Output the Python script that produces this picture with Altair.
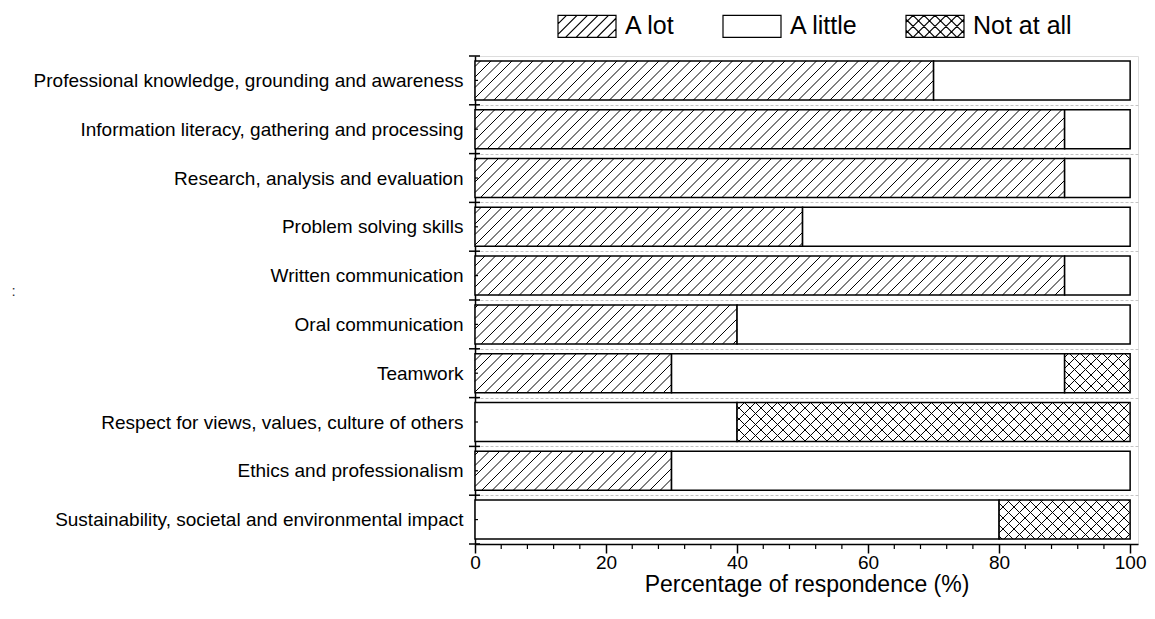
import json
import math
import pandas as pd
import altair as alt

# ---------------- data ----------------
CATEGORIES = [
    "Professional knowledge, grounding and awareness",
    "Information literacy, gathering and processing",
    "Research, analysis and evaluation",
    "Problem solving skills",
    "Written communication",
    "Oral communication",
    "Teamwork",
    "Respect for views, values, culture of others",
    "Ethics and professionalism",
    "Sustainability, societal and environmental impact",
]
RESPONSES = ["A lot", "A little", "Not at all"]
A_LOT = [70, 90, 90, 50, 90, 40, 30, 0, 30, 0]
A_LITTLE = [30, 10, 10, 50, 10, 60, 60, 40, 70, 80]
NOT_AT_ALL = [0, 0, 0, 0, 0, 0, 10, 60, 0, 20]
X_TICKS = [0, 20, 40, 60, 80, 100]
X_MINOR_TICKS = [v for v in range(4, 100, 4) if v % 20 != 0]
X_TITLE = "Percentage of respondence (%)"
STRAY_TEXT = ":"

# ---------------- layout / style ----------------
FONT = "Liberation Sans"
PAD_L, PAD_T, PAD_R, PAD_B = 467, 48, 9, 60
W, H = 663, 488
XMAX = 101.2
NCAT = len(CATEGORIES)
HALF = 0.4
SX = W / XMAX
SY = H / NCAT
HATCH = {"A lot": [(1, 10.5)], "A little": [], "Not at all": [(1, 11.0), (-1, 11.0)]}
SWATCH_W, SWATCH_H = 58, 22


def hatch_lines(X0, X1, Y0, Y1, direction, period, minlen):
    segs = []
    if direction == 1:  # X + Y = c  -> "/"
        k0 = math.ceil((X0 + Y0) / period)
        k1 = math.floor((X1 + Y1) / period)
        for k in range(k0, k1 + 1):
            c = k * period
            xa, xb = max(X0, c - Y1), min(X1, c - Y0)
            if xb - xa > minlen:
                segs.append((xa, c - xa, xb, c - xb))
    else:  # X - Y = c -> "\"
        k0 = math.ceil((X0 - Y1) / period)
        k1 = math.floor((X1 - Y0) / period)
        for k in range(k0, k1 + 1):
            c = k * period
            xa, xb = max(X0, c + Y0), min(X1, c + Y1)
            if xb - xa > minlen:
                segs.append((xa, xa - c, xb, xb - c))
    return segs


# segments table
seg_rows = []
for i, cat in enumerate(CATEGORIES):
    start = 0
    for resp, vals in zip(RESPONSES, [A_LOT, A_LITTLE, NOT_AT_ALL]):
        v = vals[i]
        if v > 0:
            seg_rows.append(dict(category=cat, idx=i, response=resp,
                                 x0=start, x1=start + v, y0=i - HALF, y1=i + HALF))
        start += v
segs = pd.DataFrame(seg_rows)

# hatch table (pixel-space 45 degree lines, converted back into data units)
hatch_rows = []
for r in seg_rows:
    X0, X1 = r["x0"] * SX, r["x1"] * SX
    Y0, Y1 = (r["y0"] + 0.5) * SY, (r["y1"] + 0.5) * SY
    for d, p in HATCH[r["response"]]:
        for (xa, ya, xb, yb) in hatch_lines(X0, X1, Y0, Y1, d, p, 0.3):
            hatch_rows.append(dict(hx=xa / SX, hy=ya / SY - 0.5,
                                   hx2=xb / SX, hy2=yb / SY - 0.5))
hatch = pd.DataFrame(hatch_rows)

# legend symbol paths (custom shapes in unit coordinates, scale = sqrt(size)/2)
R = SWATCH_W / 2.0
HH = SWATCH_H / 2.0 / R


def swatch_path(resp):
    parts = [f"M-1,{-HH:.4f}H1V{HH:.4f}H-1Z"]
    for d, p in HATCH[resp]:
        for (xa, ya, xb, yb) in hatch_lines(-1, 1, -HH, HH, d, p / R, 0.01):
            parts.append(f"M{xa:.4f},{ya:.4f}L{xb:.4f},{yb:.4f}")
    return "".join(parts)


SHAPES = [swatch_path(r) for r in RESPONSES]

boundaries = pd.DataFrame({"b": [i - 0.5 for i in range(NCAT + 1)]})
centers = pd.DataFrame({"c": list(range(NCAT))})
minor = pd.DataFrame({"m": X_MINOR_TICKS})

xscale = alt.Scale(domain=[0, XMAX], nice=False, zero=False)
yscale = alt.Scale(domain=[NCAT - 0.5, -0.5], nice=False, zero=False)

label_expr = json.dumps(CATEGORIES) + "[round(datum.value - 0.5)]"
PLOT_LEFT_PAGE = 8 + PAD_L

x_axis = alt.Axis(values=X_TICKS, title=X_TITLE, tickSize=9, tickWidth=1.5,
                  tickColor="black", domainColor="black", domainWidth=1.5,
                  labelFontSize=19, labelFlush=False, labelPadding=0,
                  titleFontSize=23, titleFontWeight="normal",
                  titleY=40, titleBaseline="middle",
                  grid=False, format="d")
y_axis = alt.Axis(values=[i + 0.5 for i in range(NCAT)], labelExpr=label_expr,
                  labelOffset=-SY / 2, ticks=False, labelPadding=12,
                  labelFontSize=19, labelLimit=600, domainColor="black", domainWidth=1.5,
                  grid=True, gridColor="#c4c4c4", gridDash=[3, 2], gridWidth=1,
                  title=STRAY_TEXT, titleAngle=0, titleFontSize=15,
                  titleFontWeight="normal", titleColor="#333333",
                  titleX=13 - PLOT_LEFT_PAGE, titleY=290 - 56,
                  titleAlign="center", titleBaseline="middle",
                  labelOverlap=False)

bars = alt.Chart(segs).mark_rect(fill="white", stroke="black", strokeWidth=1.5).encode(
    x=alt.X("x0:Q", scale=xscale, axis=x_axis, title=X_TITLE),
    x2="x1:Q",
    y=alt.Y("y0:Q", scale=yscale, axis=y_axis, title=STRAY_TEXT),
    y2="y1:Q",
)

hatch_layer = alt.Chart(hatch).mark_rule(color="black", strokeWidth=1).encode(
    x=alt.X("hx:Q", scale=xscale, title=X_TITLE),
    x2="hx2:Q",
    y=alt.Y("hy:Q", scale=yscale, title=STRAY_TEXT),
    y2="hy2:Q",
)

ytick_major = alt.Chart(boundaries).mark_rule(color="black", strokeWidth=1.5).encode(
    y=alt.Y("b:Q", scale=yscale, title=STRAY_TEXT),
    x=alt.value(-6), x2=alt.value(5),
)
ytick_minor = alt.Chart(centers).mark_rule(color="black", strokeWidth=1.2).encode(
    y=alt.Y("c:Q", scale=yscale, title=STRAY_TEXT),
    x=alt.value(0), x2=alt.value(3),
)
xtick_minor = alt.Chart(minor).mark_rule(color="black", strokeWidth=1.2).encode(
    x=alt.X("m:Q", scale=xscale, title=X_TITLE),
    y=alt.value(H), y2=alt.value(H + 5),
)

legend_pts = alt.Chart(segs).mark_point(opacity=0).encode(
    x=alt.X("x0:Q", scale=xscale, title=X_TITLE),
    y=alt.Y("idx:Q", scale=yscale, title=STRAY_TEXT),
    shape=alt.Shape("response:N",
                    scale=alt.Scale(domain=RESPONSES, range=SHAPES),
                    legend=alt.Legend(orient="none", legendX=557 - PLOT_LEFT_PAGE, legendY=-60,
                                      direction="horizontal", title=None,
                                      symbolSize=SWATCH_W * SWATCH_W,
                                      symbolStrokeWidth=1.2, symbolStrokeColor="black",
                                      symbolFillColor="white", symbolOpacity=1,
                                      labelFontSize=25, labelFont=FONT, labelColor="black",
                                      labelOffset=8, columnPadding=44, padding=0,
                                      labelLimit=400)),
)

chart = alt.layer(bars, hatch_layer, ytick_minor, ytick_major, xtick_minor, legend_pts).properties(
    width=W, height=H,
    autosize=alt.AutoSizeParams(type="none"),
    padding={"left": PAD_L, "top": PAD_T, "right": PAD_R, "bottom": PAD_B},
).configure_view(strokeWidth=0).configure_axis(
    labelFont=FONT, titleFont=FONT, labelColor="black", titleColor="black",
).configure(background="white")

chart.save("out.html", embed_options={"renderer": "svg", "actions": False})
